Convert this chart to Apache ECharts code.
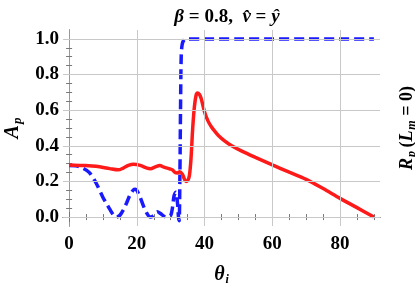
<!DOCTYPE html>
<html><head><meta charset="utf-8">
<script src="https://cdn.jsdelivr.net/npm/echarts@6/dist/echarts.min.js"></script>
<style>html,body{margin:0;padding:0;background:#fff}#c{width:415px;height:285px}</style>
</head><body><div id="c"></div>
<script>
// Data
const thetaRed = [0,4,8,12,14.5,16,17.5,19,21,23,24,25.5,26.8,28,29.8,30.5,31.3,32,32.7,33.5,34,34.5,35,35.5,36,36.5,37,37.5,37.9,38.5,39,40,41,42,43,44,46,48,51,55,60,65,70,75,80,85,90];
const apRed    = [0.293,0.29,0.285,0.272,0.265,0.275,0.29,0.297,0.29,0.275,0.272,0.282,0.289,0.28,0.27,0.265,0.25,0.248,0.255,0.24,0.215,0.2,0.205,0.23,0.33,0.5,0.62,0.685,0.697,0.688,0.665,0.59,0.54,0.507,0.482,0.46,0.426,0.4,0.37,0.335,0.293,0.252,0.212,0.16,0.105,0.053,0.0];
const thetaBlue = [0,2,4,6,8,10,11,12,13,14,15,16,17,18,19,19.5,20,21,22,23,24,25,26,27,28,29,30,30.5,31,31.5,32,32.3,32.5,32.7,32.9,33.1,33.4,34,35,40,50,60,70,80,90];
const apBlue    = [0.29,0.288,0.275,0.25,0.19,0.11,0.077,0.045,0.015,0.0,0.01,0.04,0.08,0.125,0.153,0.156,0.15,0.11,0.06,0.02,0.0,0.01,0.03,0.02,0.005,0.0,0.01,0.05,0.12,0.14,0.08,0.0,-0.02,0.2,0.6,0.9,0.97,0.995,1.0,1.0,1.0,1.0,1.0,1.0,1.0];
const xMajor = [0,20,40,60,80];
const xMinor = [5,10,15,25,30,35,45,50,55,65,70,75,85,90];
const yMajor = [0,0.2,0.4,0.6,0.8,1.0];
const yMinor = [0.05,0.1,0.15,0.25,0.3,0.35,0.45,0.5,0.55,0.65,0.7,0.75,0.85,0.9,0.95];

const FONT = '"Liberation Serif", "DejaVu Serif", serif';
const XMIN = -1.8, XMAX = 91.8, YMIN = -0.05, YMAX = 1.05;
const frameColor = '#999';

function xAx(pos, vals, len, withLabels, extra) {
  return Object.assign({
    type: 'value', position: pos, min: XMIN, max: XMAX,
    axisLine: {show: true, lineStyle: {color: frameColor, width: 1}},
    axisTick: {show: true, inside: true, length: len, customValues: vals, lineStyle: {color: '#777'}},
    axisLabel: withLabels ? {show: true, customValues: vals, fontFamily: FONT, fontWeight: 'bold', fontSize: 19, color: '#000', margin: 9} : {show: false},
    splitLine: {show: false}
  }, extra || {});
}
function yAx(pos, vals, len, withLabels, extra) {
  return Object.assign({
    type: 'value', position: pos, min: YMIN, max: YMAX,
    axisLine: {show: true, lineStyle: {color: frameColor, width: 1}},
    axisTick: {show: true, inside: true, length: len, customValues: vals, lineStyle: {color: '#777'}},
    axisLabel: withLabels ? {show: true, customValues: vals, formatter: v => v.toFixed(1), fontFamily: FONT, fontWeight: 'bold', fontSize: 19, color: '#000', margin: 4} : {show: false},
    splitLine: {show: false}
  }, extra || {});
}

const chart = echarts.init(document.getElementById('c'), null, {renderer: 'canvas'});
const gridLineStyle = {color: '#c8c8c8', width: 1, type: 'solid'};
chart.setOption({
  animation: false,
  backgroundColor: '#fff',
  title: {
    text: '{g|β} = 0.8,  {i|v\u0302} = {i|\u0177}',
    left: 222, top: 3, textAlign: 'center',
    textStyle: {
      fontFamily: FONT, fontWeight: 'bold', fontSize: 19, color: '#000',
      rich: {
        g: {fontFamily: FONT, fontWeight: 'bold', fontStyle: 'italic', fontSize: 19, color: '#000'},
        i: {fontFamily: FONT, fontWeight: 'bold', fontStyle: 'italic', fontSize: 19, color: '#000'}
      }
    }
  },
  grid: {left: 63, right: 35, top: 30, bottom: 59, show: false, outerBoundsMode: 'none', containLabel: false},
  xAxis: [
    xAx('bottom', xMajor, 5, true, {
      name: '{a|θ}{s|i}', nameLocation: 'middle', nameGap: 38,
      nameTextStyle: {rich: {
        a: {fontFamily: FONT, fontWeight: 'bold', fontStyle: 'italic', fontSize: 20, color: '#000'},
        s: {fontFamily: FONT, fontWeight: 'bold', fontStyle: 'italic', fontSize: 12, color: '#000', padding: [10, 0, 0, 1]}
      }}
    }),
    xAx('bottom', xMinor, 3, false),
    xAx('top', xMajor, 5, false),
    xAx('top', xMinor, 3, false)
  ],
  yAxis: [
    yAx('left', yMajor, 5, true, {
      name: '{a|A}{s|p}', nameLocation: 'middle', nameGap: 29, nameRotate: 90,
      nameTextStyle: {rich: {
        a: {fontFamily: FONT, fontWeight: 'bold', fontStyle: 'italic', fontSize: 20, color: '#000'},
        s: {fontFamily: FONT, fontWeight: 'bold', fontStyle: 'italic', fontSize: 13, color: '#000', padding: [10, 0, 0, 1]}
      }}
    }),
    yAx('left', yMinor, 3, false),
    yAx('right', yMajor, 5, false, {
      name: '{a|R}{s|p} {b|(}{a|L}{s|m}{b| = 0)}', nameLocation: 'middle', nameGap: 17, nameRotate: 90,
      nameTextStyle: {rich: {
        a: {fontFamily: FONT, fontWeight: 'bold', fontStyle: 'italic', fontSize: 18, color: '#000'},
        b: {fontFamily: FONT, fontWeight: 'bold', fontSize: 18, color: '#000'},
        s: {fontFamily: FONT, fontWeight: 'bold', fontStyle: 'italic', fontSize: 12, color: '#000', padding: [9, 0, 0, 1]}
      }}
    }),
    yAx('right', yMinor, 3, false)
  ],
  series: [
    {
      type: 'line', xAxisIndex: 0, yAxisIndex: 0, silent: true, symbol: 'none', z: 1,
      data: [], lineStyle: {opacity: 0},
      markLine: {
        silent: true, symbol: 'none', label: {show: false}, lineStyle: gridLineStyle, animation: false,
        data: xMajor.filter(v => v !== 0).map(v => ({xAxis: v})).concat(yMajor.map(v => ({yAxis: v})))
      }
    },
    {
      type: 'line', xAxisIndex: 0, yAxisIndex: 0, symbol: 'none', z: 3,
      smooth: 0.3,
      data: thetaBlue.map((t, i) => [t, apBlue[i]]),
      lineStyle: {color: '#1a1aff', width: 3.5, type: [10, 5]}
    },
    {
      type: 'line', xAxisIndex: 0, yAxisIndex: 0, symbol: 'none', z: 4,
      smooth: 0.3,
      data: thetaRed.map((t, i) => [t, apRed[i]]),
      lineStyle: {color: '#ff1a1a', width: 3.5}
    }
  ]
});
</script></body></html>
